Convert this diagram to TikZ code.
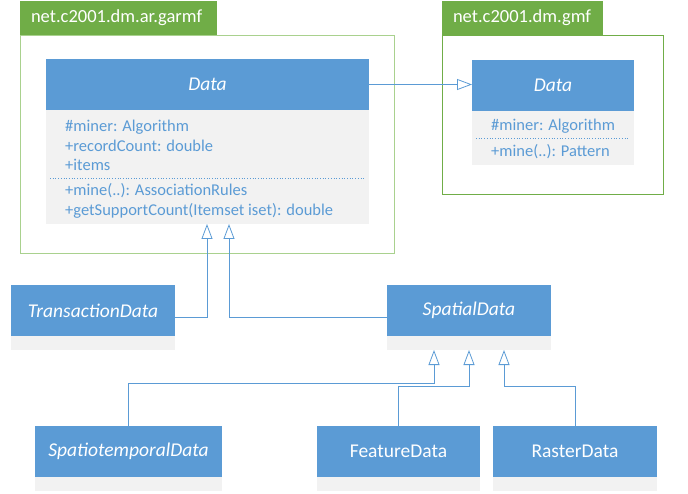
\documentclass[tikz,border=0pt]{standalone}
\usepackage{fontspec}
\setmainfont{Carlito}
\usetikzlibrary{arrows.meta}
\definecolor{hblue}{HTML}{5B9BD5}
\definecolor{lblue}{HTML}{5B9BD5}
\definecolor{cgray}{HTML}{F2F2F2}
\definecolor{pgreen}{HTML}{70AD47}
\definecolor{lgreen}{HTML}{A9D18E}
\begin{document}
\begin{tikzpicture}[x=1pt,y=-1pt,
  classbox/.style={fill=cgray, draw=none, anchor=north west, inner sep=0pt, outer sep=0pt, minimum height=65pt},
  hdr/.style={fill=hblue, draw=none, text=white, anchor=north west, inner sep=0pt, outer sep=0pt, minimum height=51pt, font=\fontsize{19.5}{23}\selectfont\itshape},
  hdrup/.style={hdr, font=\fontsize{19.5}{23}\selectfont},
  attr/.style={anchor=west, inner sep=0pt, text=lblue, text height=11.5pt, text depth=3.5pt, font=\fontsize{16.5}{20}\selectfont},
  tab/.style={fill=pgreen, draw=none, text=white, anchor=north west, inner ysep=0pt, inner xsep=11pt, outer sep=0pt, minimum height=34pt, align=left, font=\fontsize{18.5}{22}\selectfont},
  pkgframe/.style={draw=#1, line width=0.9pt, fill=none, anchor=north west, inner sep=0pt, outer sep=0pt},
  sep/.style={draw=lblue, line width=0.7pt, dotted},
  inh/.style={draw=hblue, line width=0.8pt, -{Triangle[open, length=15pt, width=11pt, fill=white]}}
]
\useasboundingbox (0,0) rectangle (688,494);

% package 1
\node[pkgframe=lgreen, minimum width=374pt, minimum height=218pt] (pkgA) at (20,35) {};
\node[tab, text width=175pt] (tabA) at (20,1) {net.c2001.dm.ar.garmf};

% package 2
\node[pkgframe=pgreen, minimum width=221pt, minimum height=159pt] (pkgB) at (442,35) {};
\node[tab, text width=139pt] (tabB) at (442,1) {net.c2001.dm.gmf};

% Data (garmf)
\node[classbox, minimum width=323pt, minimum height=165pt] (dataA) at (46,59) {};
\node[hdr, minimum width=323pt] (dataAh) at (46,59) {Data};
\node[attr] (a1) at (65,128) {\#miner: Algorithm};
\node[attr] (a2) at (65,148) {+recordCount: double};
\node[attr] (a3) at (65,167) {+items};
\coordinate (sepA1) at (50,178);
\coordinate (sepA2) at (365,178);
\draw[sep] (sepA1) -- (sepA2);
\node[attr] (m1) at (65,192) {+mine(..): AssociationRules};
\node[attr] (m2) at (65,212) {+getSupportCount(Itemset iset): double};

% Data (gmf)
\node[classbox, minimum width=162pt, minimum height=105pt] (dataB) at (472,60) {};
\node[hdr, minimum width=162pt] (dataBh) at (472,60) {Data};
\node[attr] (b1) at (491,127) {\#miner: Algorithm};
\coordinate (sepB1) at (476,138);
\coordinate (sepB2) at (629,138);
\draw[sep] (sepB1) -- (sepB2);
\node[attr] (b2) at (491,153) {+mine(..): Pattern};

% bottom classes
\node[classbox, minimum width=164pt] (trans) at (11,285) {};
\node[hdr, minimum width=164pt] (transh) at (11,285) {TransactionData};
\node[classbox, minimum width=164pt] (spatial) at (387,285) {};
\node[hdr, minimum width=164pt] (spatialh) at (387,285) {SpatialData};
\node[classbox, minimum width=187pt] (spt) at (35,426) {};
\node[hdr, minimum width=187pt] (spth) at (35,426) {SpatiotemporalData};
\node[classbox, minimum width=163pt] (feat) at (317,426) {};
\node[hdrup, minimum width=163pt] (feath) at (317,426) {FeatureData};
\node[classbox, minimum width=164pt] (rast) at (493,426) {};
\node[hdrup, minimum width=164pt] (rasth) at (493,426) {RasterData};

% connectors
\coordinate (tA) at (207,224);
\coordinate (tB) at (229,224);
\coordinate (s1) at (434,350);
\coordinate (s2) at (469,350);
\coordinate (s3) at (504,350);

\draw[inh] (dataAh.east) -- (dataAh.east -| dataBh.west);
\draw[inh] (trans.east) -| (tA);
\draw[inh] (spatial.west) -| (tB);
\draw[inh] (spt.north) -- ++(0,-43) -| (s1);
\draw[inh] (feat.north) -- ++(0,-40) -| (s2);
\draw[inh] (rast.north) -- ++(0,-40) -| (s3);
\end{tikzpicture}
\end{document}
